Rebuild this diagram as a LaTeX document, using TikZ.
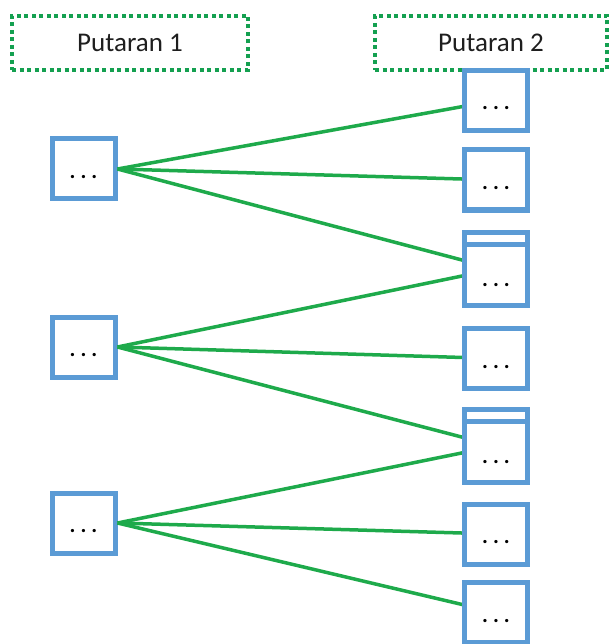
\documentclass[tikz,border=0pt]{standalone}
\usepackage{fontspec}
\setmainfont{Carlito}
\definecolor{boxblue}{RGB}{91,155,213}
\definecolor{lgreen}{RGB}{30,170,75}
\definecolor{hgreen}{RGB}{20,160,80}
\definecolor{txt}{RGB}{30,30,30}
\newcommand{\mydots}{\bfseries .\hspace{5pt}.\hspace{5pt}.}
\begin{document}
\begin{tikzpicture}[x=1pt,y=-1pt,
  item/.style={draw=boxblue,line width=5pt,fill=white,minimum width=63pt,minimum height=60pt,inner sep=0pt,
    font=\fontsize{22}{24}\selectfont,text=black,text height=19pt,text depth=0pt},
  dbl/.style={item,minimum height=73pt,text height=35pt},
  hdr/.style={draw=hgreen,line width=4pt,dash pattern=on 4pt off 3.5pt,minimum width=236pt,minimum height=54pt,inner sep=0pt,
    font=\fontsize{27}{30}\selectfont,text=txt},
  band/.style={draw=boxblue,line width=5pt},
  link/.style={draw=lgreen,line width=3.5pt}]
\useasboundingbox (0,0) rectangle (610,644);
\node[hdr] (H1) at (130,43) {Putaran 1};
\node[hdr,minimum width=232pt] (H2) at (491,43) {Putaran 2};
% left column
\node[item] (L1) at (83.5,169) {\mydots};
\node[item] (L2) at (83.5,347) {\mydots};
\node[item] (L3) at (83.5,523) {\mydots};
% anchor points of right column
\coordinate (R1p) at (496,100.5);
\coordinate (R2p) at (496,180);
\coordinate (R3p) at (496,269);
\coordinate (R4p) at (496,358.5);
\coordinate (R5p) at (496,446);
\coordinate (R6p) at (496,534);
\coordinate (R7p) at (496,612.5);
\draw[link] (L1.east) -- (R1p);
\draw[link] (L1.east) -- (R2p);
\draw[link] (L1.east) -- (R3p);
\draw[link] (L2.east) -- (R3p);
\draw[link] (L2.east) -- (R4p);
\draw[link] (L2.east) -- (R5p);
\draw[link] (L3.east) -- (R5p);
\draw[link] (L3.east) -- (R6p);
\draw[link] (L3.east) -- (R7p);
% right column
\node[item] (R1) at (R1p) {\mydots};
\node[item] (R2) at (R2p) {\mydots};
\node[dbl] (R3) at (R3p) {\mydots};
\draw[band] ([yshift=-14pt]R3.north west) -- ([yshift=-14pt]R3.north east);
\node[item] (R4) at (R4p) {\mydots};
\node[dbl] (R5) at (R5p) {\mydots};
\draw[band] ([yshift=-14pt]R5.north west) -- ([yshift=-14pt]R5.north east);
\node[item] (R6) at (R6p) {\mydots};
\node[item] (R7) at (R7p) {\mydots};
\end{tikzpicture}
\end{document}
